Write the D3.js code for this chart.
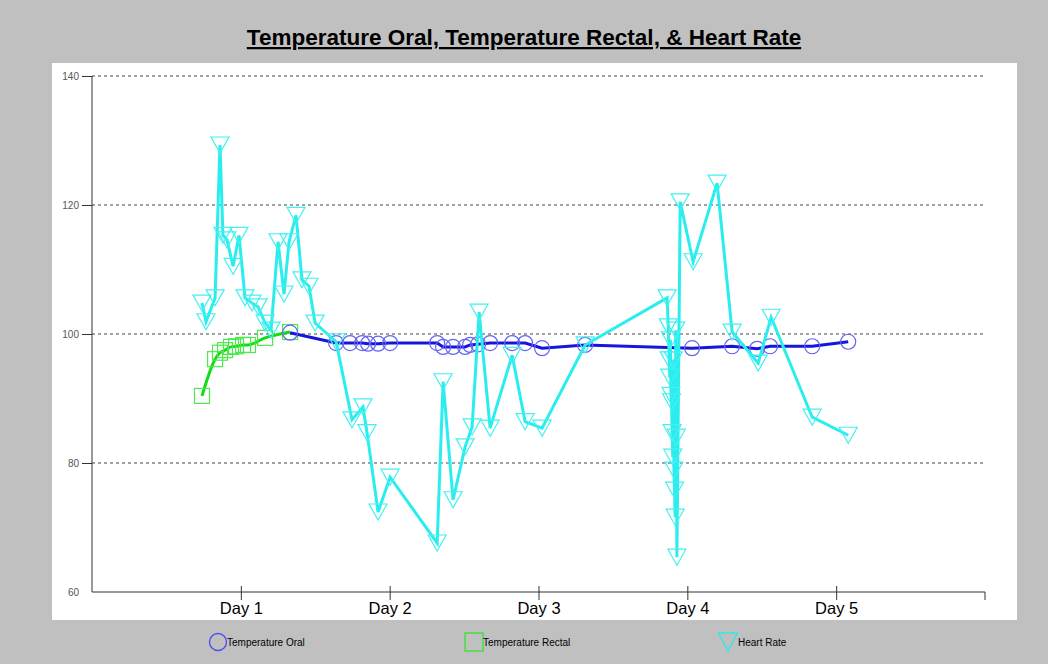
<!DOCTYPE html>
<html><head><meta charset="utf-8">
<script src="https://cdn.jsdelivr.net/npm/d3@7"></script>
<style>html,body{margin:0;padding:0;background:#c0c0c0;}svg{display:block;}</style>
</head><body>
<svg id="chart" width="1048" height="664"></svg>
<script>
const title = "Temperature Oral, Temperature Rectal, & Heart Rate";
const dayTicks = [1, 2, 3, 4, 5];
const dayLabels = ["Day 1", "Day 2", "Day 3", "Day 4", "Day 5"];
const yTicks = [60, 80, 100, 120, 140];
const gridTicks = [80, 100, 120, 140];
const seriesNames = ["Temperature Oral", "Temperature Rectal", "Heart Rate"];

const oralDays = [1.331, 1.640, 1.734, 1.815, 1.855, 1.922, 2.003, 2.319, 2.359, 2.426, 2.507, 2.540, 2.594, 2.675, 2.823, 2.910, 3.024, 3.313, 4.032, 4.301, 4.469, 4.556, 4.839, 5.081];
const oralValues = [100.2, 98.6, 98.6, 98.6, 98.5, 98.5, 98.6, 98.6, 98.0, 98.0, 98.0, 98.3, 98.4, 98.6, 98.6, 98.6, 97.8, 98.3, 97.8, 98.1, 97.7, 98.1, 98.1, 98.8];

const rectalDays = [0.739, 0.827, 0.860, 0.894, 0.934, 0.968, 1.015, 1.048, 1.163, 1.331];
const rectalValues = [90.4, 96.1, 97.1, 97.5, 98.0, 98.1, 98.3, 98.3, 99.4, 100.3];

const hrDays = [0.739, 0.766, 0.827, 0.860, 0.880, 0.907, 0.948, 0.988, 1.028, 1.075, 1.116, 1.163, 1.203, 1.250, 1.290, 1.324, 1.371, 1.411, 1.458, 1.499, 1.640, 1.747, 1.821, 1.848, 1.922, 2.003, 2.319, 2.359, 2.426, 2.507, 2.554, 2.601, 2.675, 2.823, 2.910, 3.024, 3.313, 3.864,
  3.872, 3.878, 3.882, 3.886, 3.890, 3.894, 3.898, 3.902, 3.906, 3.910, 3.914, 3.918, 3.922, 3.926, 3.930,
  3.952, 4.039, 4.200, 4.301, 4.476, 4.563, 4.839, 5.081];
const hrValues = [104.8, 101.9, 105.6, 129.3, 115.3, 114.6, 110.5, 115.3, 105.6, 104.8, 104.2, 101.7, 100.6, 114.3, 106.2, 114.3, 118.4, 108.4, 107.4, 101.7, 98.8, 86.7, 88.7, 84.7, 72.4, 77.8, 67.6, 92.6, 74.3, 82.5, 85.6, 103.4, 85.4, 96.7, 86.4, 85.4, 98.3, 105.6,
  101.1, 96.0, 93.3, 99.1, 90.5, 89.5, 84.7, 80.9, 96.0, 78.9, 75.8, 71.6, 100.6, 84.0, 65.4,
  120.5, 111.2, 123.4, 100.3, 95.5, 102.6, 87.1, 84.3];

const svg = d3.select("#chart");
const W = 1048, H = 664;
const font = "'Liberation Sans', Arial, sans-serif";

svg.append("rect").attr("width", W).attr("height", H).attr("fill", "#c0c0c0");
svg.append("rect").attr("x", 52).attr("y", 63).attr("width", 965).attr("height", 557).attr("fill", "#ffffff");

const x = d3.scaleLinear().domain([0, 6]).range([92, 985]);
const y = d3.scaleLinear().domain([60, 140]).range([592, 76]);

// title
svg.append("text").attr("x", 524).attr("y", 45).attr("text-anchor", "middle")
  .attr("font-family", font).attr("font-weight", "bold").attr("font-size", 22.5)
  .attr("text-decoration", "underline").attr("fill", "#000").text(title);

// gridlines
svg.append("g").selectAll("line").data(gridTicks).join("line")
  .attr("x1", x(0)).attr("x2", x(6)).attr("y1", d => y(d)).attr("y2", d => y(d))
  .attr("stroke", "#444").attr("stroke-width", 1).attr("stroke-dasharray", "3,3");

// y axis
const yAxis = d3.axisLeft(y).tickValues(yTicks).tickSize(10).tickPadding(3).tickFormat(d3.format("d"));
const gy = svg.append("g").attr("transform", `translate(${x(0)},0)`).call(yAxis);
gy.select(".domain").attr("stroke", "#333").attr("d", `M0,${y(140)}V${y(60)}`);
gy.selectAll(".tick line").attr("stroke", "#333").filter(d => d === 60).remove();
gy.selectAll(".tick text").attr("font-family", font).attr("font-size", 10).attr("fill", "#555");

// x axis
const xAxis = d3.axisBottom(x).tickValues(dayTicks).tickSize(8).tickPadding(2).tickFormat((d, i) => dayLabels[i]);
const gx = svg.append("g").attr("transform", `translate(0,${y(60)})`).call(xAxis);
gx.select(".domain").attr("stroke", "#333").attr("d", `M${x(0)},0H${x(6)}`);
gx.selectAll(".tick line").attr("stroke", "#333").attr("y1", -6);
gx.selectAll(".tick text").attr("font-family", font).attr("font-size", 16.5).attr("fill", "#000");
gx.append("line").attr("x1", x(6)).attr("x2", x(6)).attr("y1", 0).attr("y2", 8).attr("stroke", "#333");

const line = d3.line().x(d => x(d[0])).y(d => y(d[1]));
const rectal = rectalDays.map((d, i) => [d, rectalValues[i]]);
const oral = oralDays.map((d, i) => [d, oralValues[i]]);
const hr = hrDays.map((d, i) => [d, hrValues[i]]);

const plot = svg.append("g");
// rectal
plot.append("path").datum(rectal).attr("d", line.curve(d3.curveMonotoneX)).attr("fill", "none")
  .attr("stroke", "#12dd12").attr("stroke-width", 3);
plot.append("g").selectAll("rect").data(rectal).join("rect")
  .attr("x", d => x(d[0]) - 7.5).attr("y", d => y(d[1]) - 7.5).attr("width", 15).attr("height", 15)
  .attr("fill", "none").attr("stroke", "#4ee84e").attr("stroke-width", 1.2);
// oral
plot.append("path").datum(oral).attr("d", line.curve(d3.curveLinear)).attr("fill", "none")
  .attr("stroke", "#1515dd").attr("stroke-width", 3);
plot.append("g").selectAll("circle").data(oral).join("circle")
  .attr("cx", d => x(d[0])).attr("cy", d => y(d[1])).attr("r", 7.5)
  .attr("fill", "none").attr("stroke", "#6464f0").attr("stroke-width", 1.2);
// heart rate
plot.append("path").datum(hr).attr("d", line.curve(d3.curveLinear)).attr("fill", "none")
  .attr("stroke", "#2aeeee").attr("stroke-width", 3).attr("stroke-linejoin", "miter");
const tri = (cx, cy, w, h) => `M${cx - w / 2},${cy - h / 2}H${cx + w / 2}L${cx},${cy + h / 2}Z`;
plot.append("g").selectAll("path").data(hr).join("path")
  .attr("d", d => tri(x(d[0]), y(d[1]), 18, 16))
  .attr("fill", "none").attr("stroke", "#44f0f0").attr("stroke-width", 1.2);

// legend
const leg = svg.append("g");
const ly = 642;
leg.append("circle").attr("cx", 218).attr("cy", ly).attr("r", 8.5).attr("fill", "none").attr("stroke", "#5050f0").attr("stroke-width", 1.4);
leg.append("rect").attr("x", 465).attr("y", ly - 9).attr("width", 18).attr("height", 18).attr("fill", "none").attr("stroke", "#3ee03e").attr("stroke-width", 1.4);
leg.append("path").attr("d", tri(728, ly, 19, 18)).attr("fill", "none").attr("stroke", "#30e8e8").attr("stroke-width", 1.4);
const legX = [227, 483, 738];
leg.selectAll("text").data(seriesNames).join("text")
  .attr("x", (d, i) => legX[i]).attr("y", ly + 3.5)
  .attr("font-family", font).attr("font-size", 10).attr("fill", "#000").text(d => d);
</script>
</body></html>
